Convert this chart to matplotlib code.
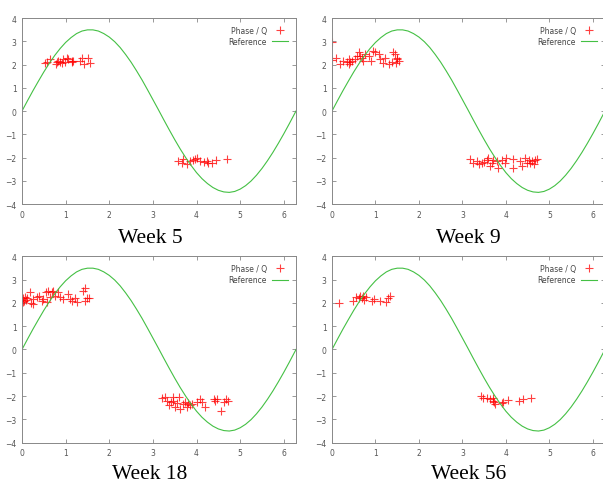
import numpy as np
import matplotlib.pyplot as plt

# reference curve, values
ref_x = [0.0, 0.125, 0.25, 0.375, 0.5, 0.625, 0.75, 0.875, 1.0, 1.125, 1.25, 1.375,
         1.5, 1.625, 1.75, 1.875, 2.0, 2.125, 2.25, 2.375, 2.5, 2.625, 2.75, 2.875,
         3.0, 3.125, 3.25, 3.375, 3.5, 3.625, 3.75, 3.875, 4.0, 4.125, 4.25, 4.375,
         4.5, 4.625, 4.75, 4.875, 5.0, 5.125, 5.25, 5.375, 5.5, 5.625, 5.75, 5.875,
         6.0, 6.125, 6.28]
ref_y = [0.0, 0.44, 0.87, 1.28, 1.68, 2.05, 2.39, 2.69, 2.95, 3.16, 3.33, 3.44,
         3.49, 3.49, 3.44, 3.33, 3.18, 2.98, 2.73, 2.43, 2.10, 1.73, 1.34, 0.92,
         0.49, 0.06, -0.38, -0.81, -1.23, -1.63, -2.00, -2.34, -2.65, -2.91, -3.12,
         -3.29, -3.41, -3.48, -3.50, -3.46, -3.36, -3.21, -3.01, -2.76, -2.47,
         -2.14, -1.78, -1.39, -0.98, -0.55, 0.0]

week5_x = [0.53, 0.57, 0.64, 0.80, 0.83, 0.87, 0.91, 0.95, 0.99, 1.02, 1.06, 1.14,
           1.18, 1.33, 1.37, 1.41, 1.52, 1.56, 0.77, 1.14,
           3.58, 3.66, 3.70, 3.79, 3.85, 3.91, 3.97, 4.02, 4.07, 4.16, 4.25, 4.27,
           4.35, 4.45, 4.70]
week5_y = [2.05, 2.09, 2.23, 2.09, 2.16, 2.12, 2.06, 2.23, 2.09, 2.30, 2.23, 2.16,
           2.16, 2.16, 2.26, 2.01, 2.30, 2.06, 2.01, 2.09,
           -2.13, -2.23, -2.06, -2.30, -2.16, -2.12, -2.06, -2.01, -2.16, -2.20,
           -2.16, -2.23, -2.23, -2.12, -2.06]

week9_x = [0.00, 0.01, 0.09, 0.18, 0.26, 0.34, 0.38, 0.40, 0.45, 0.53, 0.57, 0.63,
           0.68, 0.72, 0.76, 0.84, 0.90, 0.94, 0.99, 1.07, 1.10, 1.17, 1.22, 1.30,
           1.37, 1.40, 1.45, 1.49, 1.50, 1.55, 1.47, 0.65, 0.41,
           3.18, 3.25, 3.33, 3.39, 3.45, 3.50, 3.56, 3.60, 3.64, 3.68, 3.71, 3.79,
           3.83, 3.90, 3.98, 4.01, 4.16, 4.17, 4.33, 4.37, 4.44, 4.48, 4.54, 4.60,
           4.64, 4.67, 4.71, 4.56]
week9_y = [2.95, 2.19, 2.26, 2.01, 2.16, 2.12, 2.01, 2.23, 2.16, 2.23, 2.37, 2.55,
           2.30, 2.16, 2.45, 2.37, 2.16, 2.59, 2.52, 2.45, 2.23, 2.06, 2.30, 2.04,
           2.12, 2.52, 2.45, 2.23, 2.30, 2.16, 2.06, 2.37, 2.09,
           -2.06, -2.23, -2.16, -2.30, -2.23, -2.20, -2.09, -2.01, -2.37, -2.23,
           -2.09, -2.13, -2.45, -2.09, -2.23, -2.01, -2.45, -2.06, -2.16, -2.37,
           -2.01, -2.23, -2.09, -2.16, -2.30, -2.09, -2.06, -2.23]

week18_x = [0.02, 0.05, 0.07, 0.09, 0.12, 0.03, 0.18, 0.20, 0.26, 0.34, 0.40, 0.45,
            0.49, 0.55, 0.60, 0.64, 0.68, 0.72, 0.76, 0.83, 0.87, 0.93, 1.06, 1.10,
            1.14, 1.22, 1.25, 1.39, 1.45, 1.48, 1.54, 1.45, 0.57, 0.26,
            3.20, 3.28, 3.33, 3.38, 3.41, 3.45, 3.51, 3.55, 3.59, 3.62, 3.68, 3.74,
            3.78, 3.81, 3.85, 4.00, 4.07, 4.12, 4.20, 4.39, 4.43, 4.47, 4.56, 4.62,
            4.68, 4.72, 3.89, 3.47]
week18_y = [2.20, 2.10, 2.24, 2.14, 2.20, 2.03, 2.45, 2.00, 2.17, 2.24, 2.31, 2.10,
            2.17, 2.48, 2.53, 2.24, 2.48, 2.53, 2.31, 2.45, 2.24, 2.17, 2.38, 2.17,
            2.10, 2.20, 2.03, 2.53, 2.62, 2.20, 2.20, 2.10, 2.03, 1.95,
            -2.10, -2.05, -2.19, -2.40, -2.26, -2.19, -2.48, -2.29, -2.05, -2.55,
            -2.34, -2.24, -2.48, -2.29, -2.40, -2.26, -2.12, -2.24, -2.48, -2.12,
            -2.19, -2.14, -2.62, -2.24, -2.14, -2.19, -2.33, -2.05]

week56_x = [0.17, 0.49, 0.55, 0.61, 0.64, 0.68, 0.72, 0.74, 0.78, 0.91, 0.97, 1.11,
            1.25, 1.28, 1.34,
            3.42, 3.48, 3.56, 3.64, 3.70, 3.71, 3.73, 3.75, 3.91, 3.94, 4.04, 4.31,
            4.39, 4.57]
week56_y = [1.98, 2.10, 2.24, 2.20, 2.28, 2.20, 2.31, 2.14, 2.24, 2.10, 2.17, 2.10,
            2.05, 2.20, 2.28,
            -1.98, -2.10, -2.10, -2.12, -2.19, -2.10, -2.27, -2.34, -2.29, -2.24,
            -2.16, -2.19, -2.12, -2.10]

titles = ["Week 5", "Week 9", "Week 18", "Week 56"]
panels_x = [week5_x, week9_x, week18_x, week56_x]
panels_y = [week5_y, week9_y, week18_y, week56_y]

fig = plt.figure(figsize=(6.03, 4.85), dpi=100)

rects = [
    (0.0365, 0.5773, 0.4544, 0.3835),
    (0.5506, 0.5773, 0.4527, 0.3835),
    (0.0365, 0.0852, 0.4544, 0.3843),
    (0.5506, 0.0852, 0.4527, 0.3843),
]
title_pos = [(0.249, 0.4996), (0.777, 0.4996), (0.249, 0.012), (0.777, 0.012)]

for rect, px, py, title, tpos in zip(rects, panels_x, panels_y, titles, title_pos):
    ax = fig.add_axes(rect)
    ax.plot(px, py, "+", color="red", markersize=5.5, markeredgewidth=0.8,
            alpha=0.75, label="Phase / Q")
    ax.plot(ref_x, ref_y, color="#44c044", linewidth=0.8, label="Reference")
    ax.set_xlim(0, 6.28)
    ax.set_ylim(-4, 4)
    ax.set_xticks(range(0, 7))
    ax.set_yticks(range(-4, 5))
    ax.tick_params(direction="in", length=3, width=0.6, colors="#888888",
                   labelcolor="#555555", labelsize=5.5, top=True, right=True, pad=4)
    for sp in ax.spines.values():
        sp.set_color("#888888")
        sp.set_linewidth(0.7)
    leg = ax.legend(loc="upper right", markerfirst=False, frameon=False,
                    fontsize=5.5, handlelength=2.2, borderaxespad=0.6,
                    labelspacing=0.3, handletextpad=0.6)
    for t in leg.get_texts():
        t.set_color("#444444")
    fig.text(tpos[0], tpos[1], title, ha="center", va="baseline",
             fontsize=15.5, family="Liberation Serif")

fig.savefig("out.png", dpi=100)
